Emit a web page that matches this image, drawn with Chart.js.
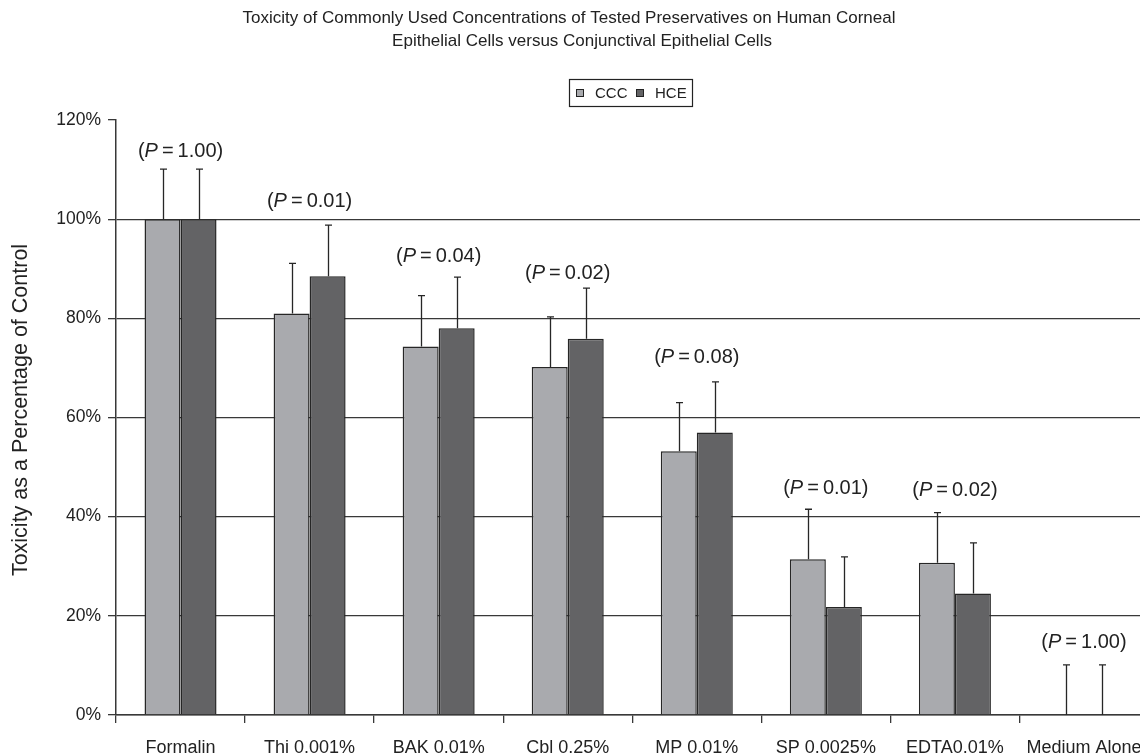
<!DOCTYPE html>
<html>
<head>
<meta charset="utf-8">
<script src="https://cdn.jsdelivr.net/npm/chart.js@4.4.1/dist/chart.umd.min.js"></script>
<style>
  html, body { margin: 0; padding: 0; background: #ffffff; overflow: hidden; }
  canvas { display: block; }
</style>
</head>
<body>
<canvas id="c" width="1160" height="755"></canvas>
<script>
// ---- data ----
const categories = ['Formalin', 'Thi 0.001%', 'BAK 0.01%', 'Cbl 0.25%', 'MP 0.01%', 'SP 0.0025%', 'EDTA0.01%', 'Medium Alone'];
const seriesNames = ['CCC', 'HCE'];
const cccValues = [100, 81.0, 74.3, 70.2, 53.2, 31.4, 30.7, 0];
const hceValues = [100, 88.5, 78.0, 75.9, 57.0, 21.8, 24.5, 0];
const cccErrors = [10.1, 10.1, 10.3, 10.1, 9.8, 10.1, 10.1, 10.1];
const hceErrors = [10.1, 10.3, 10.3, 10.2, 10.2, 10.1, 10.2, 10.1];
const pValues = ['1.00', '0.01', '0.04', '0.02', '0.08', '0.01', '0.02', '1.00'];
const pLabelLevels = [113.6, 103.5, 92.4, 89.1, 72.2, 45.7, 45.2, 14.6];
const yTicks = [0, 20, 40, 60, 80, 100, 120];
const titleLines = ['Toxicity of Commonly Used Concentrations of Tested Preservatives on Human Corneal',
                    'Epithelial Cells versus Conjunctival Epithelial Cells'];
const yAxisTitle = 'Toxicity as a Percentage of Control';

// ---- styles ----
const FONT = "'Liberation Sans', Arial, Helvetica, sans-serif";
const TEXT = '#222222';
const LINE = '#383838';
const CCC_COLOR = '#a9aaae';
const HCE_COLOR = '#636365';
const errorsBySeries = [cccErrors, hceErrors];

const errorBarPlugin = {
  id: 'errorBars',
  afterDatasetsDraw(chart) {
    const ctx = chart.ctx;
    const y = chart.scales.y;
    ctx.save();
    ctx.strokeStyle = '#262626';
    ctx.lineWidth = 1.3;
    chart.data.datasets.forEach((ds, di) => {
      const meta = chart.getDatasetMeta(di);
      meta.data.forEach((bar, i) => {
        const top = y.getPixelForValue(ds.data[i] + errorsBySeries[di][i]);
        const base = y.getPixelForValue(ds.data[i]);
        const x = Math.round(bar.x) + 0.5;
        ctx.beginPath();
        ctx.moveTo(x, base);
        ctx.lineTo(x, top);
        ctx.moveTo(x - 3.5, top);
        ctx.lineTo(x + 3.5, top);
        ctx.stroke();
      });
    });
    ctx.restore();
  }
};

const textPlugin = {
  id: 'texts',
  afterDraw(chart) {
    const ctx = chart.ctx;
    const xs = chart.scales.x, ys = chart.scales.y;
    ctx.save();
    ctx.fillStyle = TEXT;
    ctx.textBaseline = 'middle';
    // title
    ctx.font = '17px ' + FONT;
    ctx.textAlign = 'center';
    ctx.fillText(titleLines[0], 569, 18);
    ctx.fillText(titleLines[1], 582, 41);
    // legend
    const lx = 569, ly = 79, lw = 123, lh = 27;
    ctx.strokeStyle = '#222';
    ctx.lineWidth = 1.2;
    ctx.strokeRect(lx + 0.5, ly + 0.5, lw, lh);
    ctx.font = '15px ' + FONT;
    ctx.textAlign = 'left';
    const colors = [CCC_COLOR, HCE_COLOR];
    const itemX = [576, 636];
    seriesNames.forEach((name, k) => {
      ctx.fillStyle = colors[k];
      ctx.fillRect(itemX[k], 89, 8, 8);
      ctx.strokeStyle = '#222';
      ctx.lineWidth = 1;
      ctx.strokeRect(itemX[k] + 0.5, 89.5, 7, 7);
      ctx.fillStyle = TEXT;
      ctx.fillText(name, itemX[k] + 19, 93.5);
    });
    // y axis title
    ctx.save();
    ctx.translate(21, 410);
    ctx.rotate(-Math.PI / 2);
    ctx.textAlign = 'center';
    ctx.font = '21.5px ' + FONT;
    ctx.fillText(yAxisTitle, 0, 0);
    ctx.restore();
    // P labels
    const fs = 20;
    const normal = fs + 'px ' + FONT;
    const italic = 'italic ' + fs + 'px ' + FONT;
    ctx.textAlign = 'left';
    categories.forEach((c, i) => {
      const cx = xs.getPixelForValue(i);
      const cy = ys.getPixelForValue(pLabelLevels[i]);
      const parts = [['(', normal], ['P', italic], ['\u2009=\u2009' + pValues[i] + ')', normal]];
      let total = 0;
      parts.forEach(p => { ctx.font = p[1]; total += ctx.measureText(p[0]).width; });
      let x = cx - total / 2;
      parts.forEach(p => {
        ctx.font = p[1];
        ctx.fillText(p[0], x, cy);
        x += ctx.measureText(p[0]).width;
      });
    });
    ctx.restore();
  }
};

new Chart(document.getElementById('c'), {
  type: 'bar',
  data: {
    labels: categories,
    datasets: [
      { label: seriesNames[0], data: cccValues, backgroundColor: CCC_COLOR, borderColor: '#262626', borderWidth: 1.5, borderSkipped: 'bottom' },
      { label: seriesNames[1], data: hceValues, backgroundColor: HCE_COLOR, borderColor: '#262626', borderWidth: 1.5, borderSkipped: 'bottom' }
    ]
  },
  options: {
    responsive: false,
    devicePixelRatio: 1,
    animation: false,
    datasets: { bar: { categoryPercentage: 0.558, barPercentage: 1.0 } },
    layout: { padding: { top: 120, left: 0, right: 11.5, bottom: 0 } },
    plugins: { legend: { display: false }, title: { display: false }, tooltip: { enabled: false } },
    scales: {
      x: {
        offset: true,
        grid: { drawOnChartArea: false, drawTicks: true, tickLength: 8, color: LINE, lineWidth: 1.3, offset: true },
        border: { display: true, color: LINE, width: 1.5 },
        ticks: { color: TEXT, font: { family: FONT, size: 18 }, padding: 14, maxRotation: 0, autoSkip: false },
        afterFit(s) { s.height = 40; }
      },
      y: {
        min: 0, max: 120,
        afterBuildTicks(s) { s.ticks = yTicks.map(v => ({ value: v })); },
        grid: {
          color: ctx => (ctx.tick && ctx.tick.value === 120) ? 'rgba(0,0,0,0)' : LINE,
          tickColor: LINE, lineWidth: 1.3, tickLength: 8, drawTicks: true
        },
        border: { display: true, color: LINE, width: 1.5 },
        ticks: { color: TEXT, font: { family: FONT, size: 17.5 }, padding: 7, callback: v => v + '%' },
        afterFit(s) { s.width = 116; }
      }
    }
  },
  plugins: [errorBarPlugin, textPlugin]
});
</script>
</body>
</html>
